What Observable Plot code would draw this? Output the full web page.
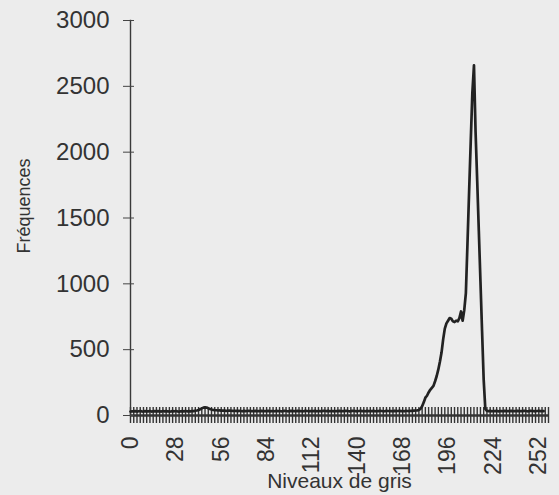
<!DOCTYPE html>
<html><head><meta charset="utf-8">
<script src="https://cdn.jsdelivr.net/npm/d3@7"></script>
<script src="https://cdn.jsdelivr.net/npm/@observablehq/plot@0.6"></script>
<style>
html,body{margin:0;padding:0;background:#ececec;}
</style></head><body><div id="chart"></div>
<script>
// Frequency for each grey level 0..255
const counts = [
  30,32,31,33,30,32,34,31,30,33,32,31,34,30,32,33,
  31,33,32,30,34,31,33,32,30,31,33,32,34,31,30,32,
  33,31,34,32,33,31,34,33,36,38,42,48,54,60,62,60,
  55,50,46,43,41,40,38,39,37,38,37,35,36,38,36,35,
  34,36,33,35,34,32,35,33,34,36,33,34,32,35,33,34,
  33,35,32,34,33,35,32,33,34,32,35,33,34,32,33,35,
  34,32,33,35,33,34,32,35,33,34,32,33,35,34,32,33,
  34,33,35,32,34,33,32,35,34,33,35,32,34,33,32,34,
  33,35,32,34,33,35,34,32,33,35,34,33,32,34,35,33,
  34,32,35,33,34,33,35,32,34,33,35,34,32,33,35,34,
  33,34,32,35,33,34,35,33,34,32,35,34,33,36,35,37,
  38,39,42,50,70,100,135,150,175,195,210,225,260,300,350,410,
  480,580,660,700,720,740,735,715,710,720,715,740,790,720,800,930,
  1310,1700,2080,2450,2660,2150,1780,1400,1020,640,270,50,34,33,35,32,
  34,33,35,32,33,34,32,35,33,34,33,35,32,34,33,35,
  32,34,33,35,34,32,33,35,34,33,32,34,35,33,34,33
];
const levels = d3.range(counts.length);
const xTickLabels = [0, 28, 56, 84, 112, 140, 168, 196, 224, 252];
const yTickLabels = [0, 500, 1000, 1500, 2000, 2500, 3000];
const hatchTicks = d3.range(0, 259, 2);
const xTitle = "Niveaux de gris";
const yTitle = "Fréquences";

const data = levels.map((g, i) => ({g, n: counts[i]}));

const chart = Plot.plot({
  width: 559, height: 495,
  marginLeft: 130, marginRight: 11, marginTop: 20, marginBottom: 80,
  style: {background: "#ececec", fontFamily: "'Liberation Sans', Arial, sans-serif", color: "#333", overflow: "visible"},
  x: {domain: [0, 258], axis: null},
  y: {domain: [0, 3000], axis: null},
  marks: [
    Plot.axisX({ticks: hatchTicks, tickSize: 16, dy: -8, text: null, label: null, stroke: "#333", strokeWidth: 1.4}),
    Plot.ruleY([0], {stroke: "#333", strokeWidth: 2.5}),
    Plot.frame({anchor: "left", stroke: "#3a3a3a", strokeWidth: 1.4}),
    Plot.axisY({ticks: yTickLabels, tickSize: 11, dx: 4, text: null, label: null, stroke: "#444"}),
    Plot.axisY({ticks: yTickLabels, tickSize: 0, tickPadding: 21, fontSize: 24, tickFormat: d3.format("d"), label: null, fill: "#333"}),
    Plot.axisX({ticks: xTickLabels, tickSize: 0, tickPadding: 21, tickRotate: -90, fontSize: 23, tickFormat: d3.format("d"), label: null, fill: "#333"}),
    Plot.line(data, {x: "g", y: "n", stroke: "#222", strokeWidth: 2.7}),
    Plot.text([xTitle], {frameAnchor: "bottom", lineAnchor: "bottom", dy: 72, fontSize: 21, fill: "#333"}),
    Plot.text([yTitle], {frameAnchor: "left", textAnchor: "middle", rotate: -90, dx: -106, dy: -12, fontSize: 18, fill: "#333"})
  ]
});
document.getElementById("chart").append(chart);
</script>
</body></html>
